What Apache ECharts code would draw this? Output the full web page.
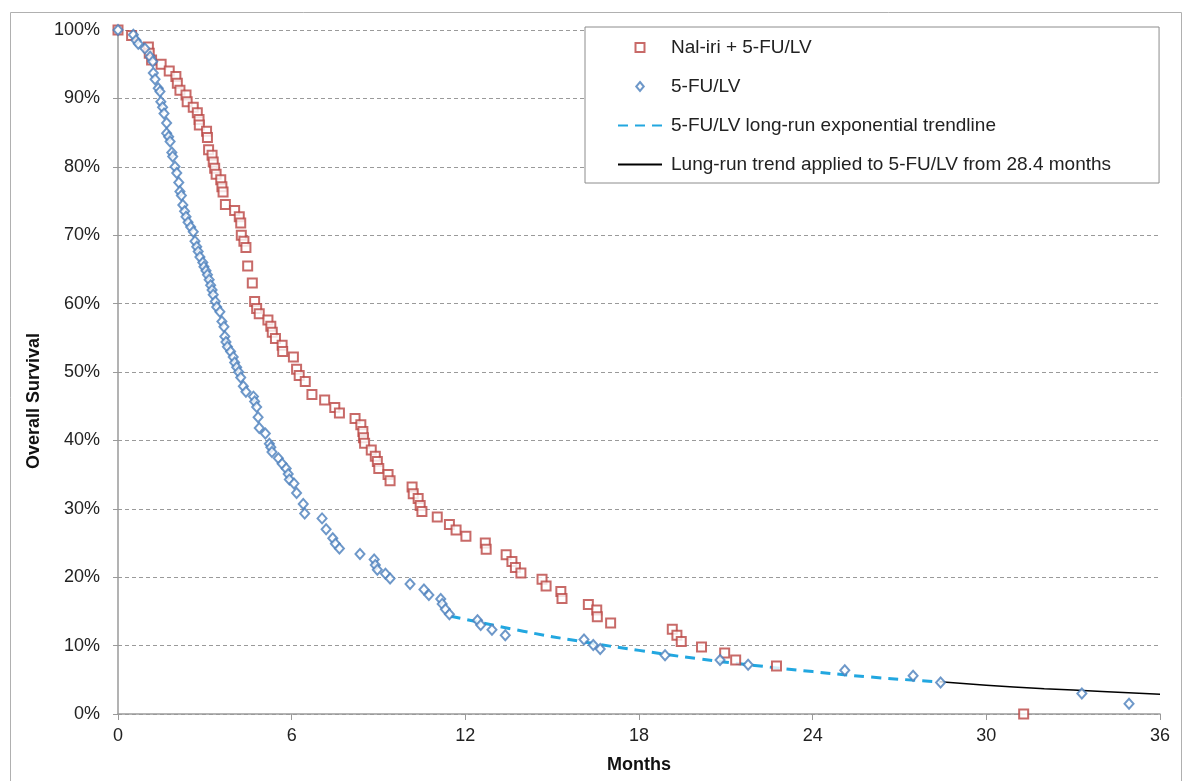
<!DOCTYPE html>
<html>
<head>
<meta charset="utf-8">
<script src="https://cdn.jsdelivr.net/npm/echarts@6/dist/echarts.min.js"></script>
<style>
  html, body { margin: 0; padding: 0; background: #fff; }
  #chart { width: 1192px; height: 781px; }
</style>
</head>
<body>
<div id="chart"></div>
<script>
// Kaplan-Meier style points, [months, survival %]
const naliriPoints = [
  [0, 100], [0.47, 99.2], [1.05, 97.5], [1.08, 96.6], [1.16, 95.6], [1.49, 95.0], [1.77, 94.0],
  [2.00, 93.2], [2.05, 92.2], [2.14, 91.2], [2.35, 90.5], [2.39, 89.5], [2.60, 88.7], [2.74, 87.9],
  [2.80, 86.9], [2.81, 86.1], [3.06, 85.2], [3.09, 84.3], [3.13, 82.5], [3.25, 81.7], [3.29, 80.7],
  [3.34, 79.8], [3.39, 78.9], [3.55, 78.1], [3.59, 77.1], [3.63, 76.3], [3.71, 74.5], [4.03, 73.6],
  [4.19, 72.7], [4.24, 71.8], [4.26, 70.0], [4.35, 69.1], [4.42, 68.2], [4.48, 65.5], [4.64, 63.0],
  [4.72, 60.3], [4.79, 59.3], [4.88, 58.5], [5.18, 57.6], [5.28, 56.7], [5.33, 55.8], [5.44, 54.9],
  [5.67, 53.9], [5.69, 53.0], [6.06, 52.2], [6.17, 50.4], [6.26, 49.5], [6.47, 48.6], [6.70, 46.7],
  [7.14, 45.9], [7.49, 44.8], [7.65, 44.0], [8.19, 43.2], [8.39, 42.3], [8.46, 41.3], [8.48, 40.4],
  [8.52, 39.6], [8.75, 38.6], [8.89, 37.7], [8.96, 36.9], [9.01, 35.9], [9.33, 35.0], [9.40, 34.1],
  [10.16, 33.2], [10.20, 32.2], [10.37, 31.5], [10.44, 30.5], [10.50, 29.6], [11.03, 28.8],
  [11.45, 27.7], [11.68, 26.9], [12.02, 26.0], [12.69, 25.0], [12.72, 24.1], [13.41, 23.3],
  [13.61, 22.3], [13.73, 21.4], [13.92, 20.6], [14.65, 19.7], [14.79, 18.7], [15.30, 17.9],
  [15.34, 16.9], [16.25, 16.0], [16.54, 15.2], [16.56, 14.2], [17.02, 13.3], [19.15, 12.4],
  [19.31, 11.5], [19.46, 10.6], [20.16, 9.8], [20.96, 8.9], [21.34, 7.9], [22.75, 7.0], [31.29, 0]
];

const fuPoints = [
  [0, 100], [0.53, 99.3], [0.62, 98.5], [0.70, 98.0], [0.93, 97.3], [1.11, 96.1], [1.20, 95.4],
  [1.22, 93.7], [1.28, 92.8], [1.39, 91.5], [1.45, 91.0], [1.48, 89.5], [1.54, 88.7], [1.59, 87.8],
  [1.68, 86.4], [1.68, 84.9], [1.75, 84.4], [1.80, 83.7], [1.86, 82.1], [1.89, 81.5], [1.97, 80.0],
  [2.03, 79.1], [2.10, 77.7], [2.14, 76.4], [2.19, 75.8], [2.24, 74.4], [2.30, 73.5], [2.35, 72.7],
  [2.42, 71.9], [2.51, 71.2], [2.60, 70.5], [2.66, 69.1], [2.72, 68.3], [2.77, 67.6], [2.83, 66.8],
  [2.93, 66.0], [2.97, 65.4], [3.04, 64.8], [3.09, 64.2], [3.15, 63.5], [3.20, 62.7], [3.25, 62.0],
  [3.29, 61.3], [3.36, 60.3], [3.41, 59.5], [3.52, 58.8], [3.59, 57.4], [3.66, 56.6], [3.69, 55.2],
  [3.73, 54.4], [3.78, 53.7], [3.89, 53.0], [3.98, 52.2], [4.03, 51.4], [4.10, 50.7], [4.17, 50.0],
  [4.24, 49.2], [4.33, 47.9], [4.42, 47.1], [4.68, 46.4], [4.72, 45.7], [4.79, 44.9], [4.84, 43.4],
  [4.88, 41.8], [5.09, 41.0], [5.23, 39.5], [5.28, 39.0], [5.32, 38.3], [5.54, 37.4], [5.67, 36.6],
  [5.81, 35.9], [5.88, 35.1], [5.92, 34.3], [6.08, 33.7], [6.17, 32.3], [6.40, 30.7], [6.45, 29.3],
  [7.05, 28.6], [7.19, 27.0], [7.42, 25.7], [7.51, 24.9], [7.65, 24.2], [8.36, 23.4], [8.85, 22.6],
  [8.89, 21.8], [8.96, 21.1], [9.24, 20.5], [9.40, 19.8], [10.09, 19.0], [10.57, 18.2], [10.74, 17.4],
  [11.15, 16.8], [11.20, 16.1], [11.31, 15.3], [11.45, 14.6], [12.42, 13.7], [12.53, 13.0],
  [12.92, 12.3], [13.38, 11.5], [16.10, 10.9], [16.42, 10.1], [16.66, 9.5], [18.90, 8.6],
  [20.80, 7.9], [21.77, 7.2], [25.11, 6.4], [27.47, 5.6], [28.42, 4.6], [33.30, 3.0], [34.93, 1.5]
];

// trendlines
const trendDashed = [
  [11.5, 14.3], [14, 12.1], [16, 10.6], [18, 9.3], [20, 8.1], [22, 7.1], [24, 6.2], [26, 5.4], [28.4, 4.7]
];
const trendSolid = [
  [28.4, 4.7], [30, 4.2], [32, 3.7], [34, 3.3], [36, 2.9]
];

const seriesNames = [
  "Nal-iri + 5-FU/LV",
  "5-FU/LV",
  "5-FU/LV long-run exponential trendline",
  "Lung-run trend applied to 5-FU/LV from 28.4 months"
];
const xTicks = [0, 6, 12, 18, 24, 30, 36];

const FONT = "Liberation Sans, Arial, sans-serif";
const RED = "#BA4542";
const BLUE = "#4A7EBB";
const chart = echarts.init(document.getElementById("chart"));

chart.setOption({
  backgroundColor: "#fff",
  animation: false,
  graphic: [{
    type: "rect",
    shape: { x: 10.5, y: 12.5, width: 1171, height: 820 },
    style: { fill: "none", stroke: "#b0b0b0", lineWidth: 1 },
    z: -1
  }],
  grid: { left: 118, right: 32, top: 30, bottom: 67 },
  legend: {
    orient: "vertical",
    left: 585,
    top: 27,
    padding: [11, 48, 9, 32],
    itemWidth: 44,
    itemHeight: 9,
    itemGap: 20,
    borderColor: "#8c8c8c",
    borderWidth: 1,
    backgroundColor: "#fff",
    symbolKeepAspect: true,
    textStyle: { fontFamily: FONT, fontSize: 19, color: "#222", padding: [0, 0, 0, 4] },
    data: [
      { name: seriesNames[0], icon: "path://M0,0H10V10H0Z" },
      { name: seriesNames[1], icon: "path://M5,0L10,6L5,12L0,6Z" },
      { name: seriesNames[2], itemStyle: { opacity: 0 } },
      { name: seriesNames[3], itemStyle: { opacity: 0 } }
    ]
  },
  xAxis: {
    type: "value",
    min: 0,
    max: 36,
    interval: 6,
    name: "Months",
    nameLocation: "middle",
    nameGap: 42,
    nameTextStyle: { fontFamily: FONT, fontSize: 18, fontWeight: "bold", color: "#111" },
    axisLine: { lineStyle: { color: "#9a9a9a", width: 1.5 } },
    axisTick: { show: true, length: 6, lineStyle: { color: "#9a9a9a" } },
    axisLabel: { fontFamily: FONT, fontSize: 18, color: "#222", margin: 13,
      formatter: v => xTicks.includes(v) ? String(v) : "" },
    splitLine: { show: false }
  },
  yAxis: {
    type: "value",
    min: 0,
    max: 100,
    interval: 10,
    name: "Overall Survival",
    nameLocation: "middle",
    nameGap: 72,
    nameTextStyle: { fontFamily: FONT, fontSize: 18, fontWeight: "bold", color: "#111", padding: [0, 58, 0, 0] },
    axisLine: { show: true, lineStyle: { color: "#9a9a9a", width: 1.5 } },
    axisTick: { show: true, length: 5, lineStyle: { color: "#9a9a9a" } },
    axisLabel: { fontFamily: FONT, fontSize: 18, color: "#222", margin: 18, formatter: "{value}%" },
    splitLine: { lineStyle: { color: "#9a9a9a", type: [4, 3], width: 1 } }
  },
  series: [
    {
      name: seriesNames[0],
      type: "scatter",
      data: naliriPoints,
      symbol: "rect",
      symbolSize: 9,
      itemStyle: { color: "#fff", borderColor: RED, borderWidth: 2 },
      z: 3
    },
    {
      name: seriesNames[1],
      type: "scatter",
      data: fuPoints,
      symbol: "diamond",
      symbolSize: [9, 10],
      itemStyle: { color: "#fff", borderColor: BLUE, borderWidth: 2 },
      z: 4
    },
    {
      name: seriesNames[2],
      type: "line",
      data: trendDashed,
      smooth: true,
      symbol: "none",
      color: "#22A7E0",
      lineStyle: { color: "#22A7E0", width: 3, type: [10, 7] },
      z: 2
    },
    {
      name: seriesNames[3],
      type: "line",
      data: trendSolid,
      smooth: true,
      symbol: "none",
      color: "#000",
      lineStyle: { color: "#000", width: 1.5 },
      z: 2
    }
  ]
});
</script>
</body>
</html>
